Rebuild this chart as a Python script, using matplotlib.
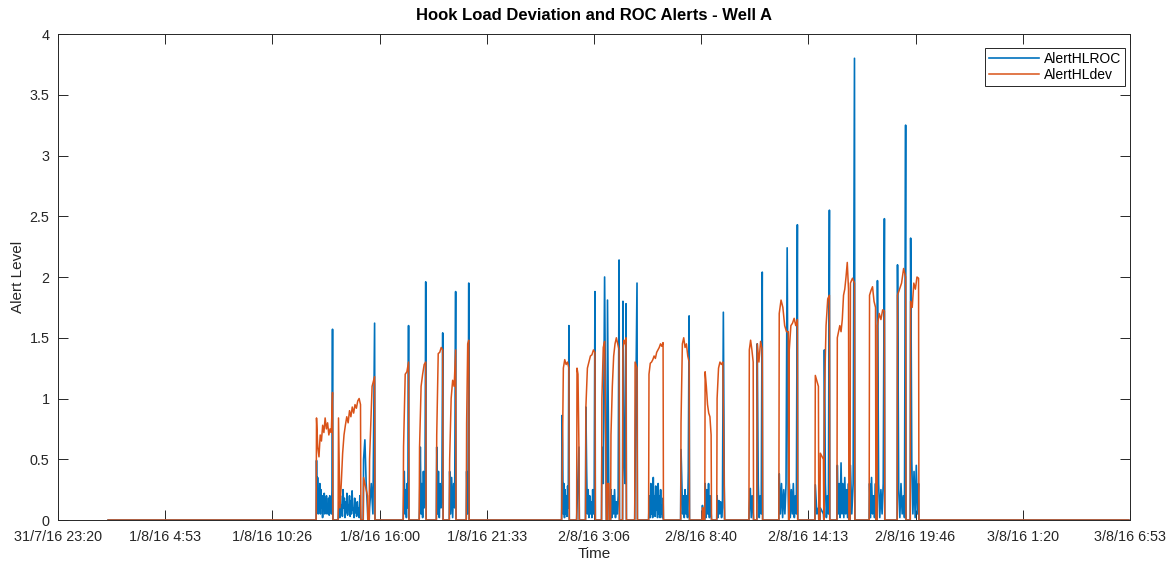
import numpy as np
import matplotlib.pyplot as plt

plt.rcParams['font.family'] = ['Liberation Sans', 'DejaVu Sans']

# time axis in hours from 31/7/16 23:20
t_first, t_last = 2.6, 55.5
tick_labels = ['31/7/16 23:20', '1/8/16 4:53', '1/8/16 10:26', '1/8/16 16:00',
               '1/8/16 21:33', '2/8/16 3:06', '2/8/16 8:40', '2/8/16 14:13',
               '2/8/16 19:46', '3/8/16 1:20', '3/8/16 6:53']
y_labels = ['0', '0.5', '1', '1.5', '2', '2.5', '3', '3.5', '4']

# active periods (hours)
block_start = [13.40, 14.54, 15.84, 16.15, 17.91, 18.74, 19.63, 20.30, 21.18,
               26.12, 26.90, 27.36, 28.19, 28.48, 28.66, 29.28, 29.91, 30.63,
               32.29, 33.40, 33.54, 34.16, 35.83, 36.24, 37.38, 37.90, 39.25,
               39.51, 39.72, 40.39, 41.07, 42.06, 42.47, 43.51, 44.19]
block_end = [14.23, 15.68, 16.04, 16.41, 18.17, 19.06, 19.94, 20.61, 21.29,
             26.48, 27.00, 27.83, 28.40, 28.55, 29.08, 29.44, 30.01, 31.36,
             32.71, 33.44, 33.85, 34.53, 36.03, 36.50, 37.85, 38.32, 39.41,
             39.67, 39.98, 40.97, 41.28, 42.37, 42.83, 43.93, 44.60]

# hook load deviation alert samples in each period
hl_dev = [
    [0.84, 0.6, 0.52, 0.7, 0.65, 0.78, 0.72, 0.84, 0.75, 0.8, 0.7, 0.75, 0.72, 1.05],
    [0.84, 0.1, 0.3, 0.55, 0.7, 0.78, 0.85, 0.8, 0.9, 0.85, 0.93, 0.88, 0.95, 0.92, 0.98, 1.0, 0.95],
    [0.35, 0.2],
    [0.5, 1.1, 1.18],
    [0.6, 1.2, 1.22, 1.3],
    [0.6, 1.1, 1.2, 1.28, 1.3],
    [0.7, 1.37, 1.38, 1.42, 1.4],
    [0.5, 1.0, 1.15, 1.1, 1.4],
    [0.8, 1.45, 1.48],
    [0.2, 1.25, 1.32, 1.28, 1.3, 1.25],
    [1.25, 1.2, 0.6],
    [0.93, 1.25, 1.3, 1.35, 1.36, 1.4, 1.38],
    [1.0, 1.42, 1.47, 0.5],
    [0.3, 0.3],
    [0.7, 1.1, 1.35, 1.45, 1.5, 1.45, 1.4],
    [1.4, 1.48, 1.45, 1.5],
    [1.3, 1.25],
    [1.2, 1.29, 1.3, 1.32, 1.35, 1.33, 1.38, 1.4, 1.42, 1.45, 1.43, 1.46],
    [0.8, 1.45, 1.5, 1.42, 1.45, 1.35, 1.3],
    [0.1, 0.1],
    [1.22, 1.1, 0.95, 0.88, 0.85, 0.7],
    [1.0, 1.25, 1.3, 1.28, 1.3, 0.3],
    [1.4, 1.48, 1.4, 1.3],
    [1.45, 1.3, 1.47, 1.4],
    [1.7, 1.81, 1.75, 1.6, 1.55, 1.55],
    [1.4, 1.6, 1.62, 1.66, 1.6, 1.65],
    [1.19, 1.1],
    [0.55, 0.5],
    [1.0, 1.6, 1.82, 1.85],
    [1.5, 1.55, 1.6, 1.55, 1.65, 1.85, 1.9, 2.0, 2.12, 1.9],
    [1.95, 1.99, 1.95],
    [1.85, 1.89, 1.92, 1.8, 1.75],
    [1.6, 1.7, 1.65, 1.73, 1.72],
    [1.85, 1.9, 1.95, 2.07, 2.0],
    [1.8, 1.75, 1.95, 1.9, 2.0, 1.99],
]

# hook load rate-of-change alert samples in each period
hl_roc = [
    [0.49, 0.1, 0.35, 0.05, 0.2, 0.1, 0.3, 0.05, 0.25, 0.1, 0.2, 0.02, 0.18, 0.1, 0.22,
     0.05, 0.15, 0.08, 0.2, 0.05, 0.12, 0.1, 0.18, 0.04, 0.2, 0.08, 0.15, 0.05, 0.25, 1.57],
    [0.05, 0.15, 0.02, 0.2, 0.08, 0.12, 0.03, 0.25, 0.1, 0.18, 0.02, 0.15, 0.06, 0.22,
     0.04, 0.12, 0.1, 0.2, 0.03, 0.16, 0.05, 0.24, 0.08, 0.1, 0.02, 0.18, 0.06, 0.12,
     0.03, 0.15, 0.05, 0.1, 0.02, 0.2, 0.05],
    [0.5, 0.66, 0.3, 0.1],
    [0.1, 0.3, 0.05, 1.62],
    [0.1, 0.4, 0.05, 0.25, 0.02, 0.3, 0.1, 1.6],
    [0.1, 0.6, 0.05, 0.3, 0.02, 0.4, 0.1, 0.2, 1.96],
    [0.6, 0.05, 0.4, 0.02, 0.3, 0.1, 0.2, 1.54],
    [0.4, 0.05, 0.35, 0.02, 0.3, 0.1, 1.88],
    [0.4, 0.05, 0.3, 1.95],
    [0.86, 0.62, 0.05, 0.3, 0.02, 0.25, 0.05, 0.2, 0.03, 0.28, 0.1, 1.6],
    [0.1, 0.6],
    [0.93, 0.4, 0.05, 0.25, 0.02, 0.2, 0.05, 0.15, 0.02, 0.25, 0.05, 0.2, 1.88],
    [0.6, 0.3, 2.0, 0.4],
    [1.81, 0.2],
    [0.25, 0.02, 0.2, 0.05, 0.25, 0.02, 0.15, 0.05, 0.2, 2.14],
    [1.8, 0.5, 0.3, 1.78],
    [0.4, 1.95],
    [0.1, 0.2, 0.02, 0.3, 0.05, 0.15, 0.02, 0.35, 0.05, 0.2, 0.03, 0.28, 0.08, 0.15,
     0.02, 0.3, 0.05, 0.2, 0.02, 0.25, 0.05, 0.12, 0.02, 0.18],
    [0.58, 0.3, 0.05, 0.2, 0.02, 0.25, 0.05, 0.2, 0.02, 0.4, 1.68],
    [0.12, 0.05],
    [0.3, 0.02, 0.25, 0.05, 0.3, 0.02, 0.2, 0.05],
    [0.2, 0.02, 0.16, 0.05, 0.15, 0.02, 0.1, 1.71, 0.3],
    [0.1, 0.26, 0.02, 0.2, 0.05],
    [1.45, 0.3, 0.02, 0.2, 0.05, 2.04],
    [0.38, 0.05, 0.3, 0.02, 0.25, 0.05, 0.3, 2.24, 0.2],
    [0.3, 0.02, 0.25, 0.05, 0.3, 0.02, 0.2, 0.05, 2.43],
    [0.29, 0.05, 0.1],
    [0.1, 0.05],
    [1.4, 0.3, 0.02, 0.2, 0.05, 2.55],
    [0.45, 0.05, 0.3, 0.02, 0.47, 0.05, 0.3, 0.02, 0.35, 0.05, 0.25, 0.02, 0.3],
    [0.45, 0.05, 0.3, 3.8],
    [0.3, 0.02, 0.35, 0.05, 0.2, 0.02, 0.3],
    [1.97, 0.3, 0.02, 0.25, 0.05, 0.3, 2.48],
    [2.1, 0.25, 0.02, 0.3, 0.05, 0.2, 0.02, 3.25],
    [2.32, 0.49, 0.05, 0.4, 0.02, 0.45, 0.05, 0.3],
]


def build_series(values, edge=0.02):
    t = [t_first]
    y = [0.0]
    for s, e, v in zip(block_start, block_end, values):
        t += [s - edge] + list(np.linspace(s, e, len(v))) + [e + edge]
        y += [0.0] + list(v) + [0.0]
    t.append(t_last)
    y.append(0.0)
    return np.array(t), np.array(y)


fig = plt.figure(figsize=(11.73, 5.62), dpi=100)
ax = fig.add_axes([0.0494, 0.0747, 0.9139, 0.8648])

t_roc, y_roc = build_series(hl_roc)
t_dev, y_dev = build_series(hl_dev)
ax.plot(t_roc, y_roc, color='#0072BD', lw=1.2, label='AlertHLROC')
ax.plot(t_dev, y_dev, color='#D95319', lw=1.1, label='AlertHLdev')

x_ticks = np.arange(len(tick_labels)) * 20000 / 3600
ax.set_xlim(x_ticks[0], x_ticks[-1])
ax.set_ylim(0, 4)
ax.set_xticks(x_ticks)
ax.set_xticklabels(tick_labels)
ax.set_yticks(np.arange(len(y_labels)) * 0.5)
ax.set_yticklabels(y_labels)

ax.tick_params(direction='in', length=7.5, width=0.7, colors='#262626',
               labelsize=10.4, top=True, right=True, pad=6)
ax.tick_params(axis='x', pad=7)
for sp in ax.spines.values():
    sp.set_color('#262626')
    sp.set_linewidth(0.7)

ax.set_title('Hook Load Deviation and ROC Alerts - Well A', fontsize=12,
             fontweight='bold', color='black', pad=10)
ax.set_xlabel('Time', fontsize=11, color='#262626', labelpad=2)
ax.set_ylabel('Alert Level', fontsize=11, color='#262626', labelpad=3)

leg = ax.legend(loc='upper right', bbox_to_anchor=(1125 / 1173, 1 - 48 / 562),
                bbox_transform=fig.transFigure, borderaxespad=0, fontsize=10,
                handlelength=3.6, handletextpad=0.35, fancybox=False, framealpha=1,
                edgecolor='#262626', borderpad=0.3, labelspacing=0.15)
leg.get_frame().set_linewidth(0.7)

fig.savefig('out.png', dpi=100)
